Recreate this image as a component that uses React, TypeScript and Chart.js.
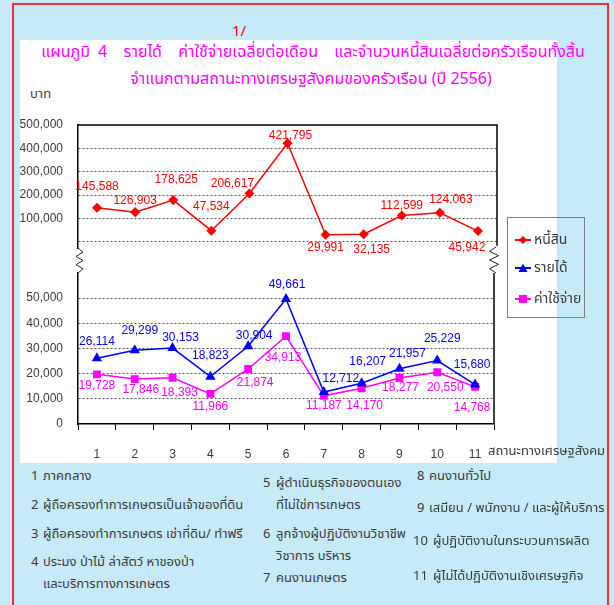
import React, { useEffect, useRef } from "react";
import { Chart, registerables } from "chart.js";

Chart.register(...registerables);

// ---------- data ----------
const categories = ["1", "2", "3", "4", "5", "6", "7", "8", "9", "10", "11"];
const debt = [145588, 126903, 178625, 47534, 206617, 421795, 29991, 32135, 112599, 124063, 45942];
const income = [26114, 29299, 30153, 18823, 30904, 49661, 12712, 16207, 21957, 25229, 15680];
const expense = [19728, 17846, 18393, 11966, 21874, 34913, 11187, 14170, 18277, 20550, 14768];
const upperTicks = [0, 100000, 200000, 300000, 400000, 500000];
const lowerTicks = [0, 10000, 20000, 30000, 40000, 50000];
const seriesNames = ["หนี้สิน", "รายได้", "ค่าใช้จ่าย"];
const groupNotes = [
  "ภาคกลาง",
  "ผู้ถือครองทำการเกษตรเป็นเจ้าของที่ดิน",
  "ผู้ถือครองทำการเกษตร เช่าที่ดิน/ ทำฟรี",
  "ประมง ป่าไม้ ล่าสัตว์ หาของป่า|และบริการทางการเกษตร",
  "ผู้ดำเนินธุรกิจของตนเอง|ที่ไม่ใช่การเกษตร",
  "ลูกจ้างผู้ปฏิบัติงานวิชาชีพ|วิชาการ บริหาร",
  "คนงานเกษตร",
  "คนงานทั่วไป",
  "เสมียน / พนักงาน / และผู้ให้บริการ",
  "ผู้ปฏิบัติงานในกระบวนการผลิต",
  "ผู้ไม่ได้ปฏิบัติงานเชิงเศรษฐกิจ",
];
const titleLine1 = "แผนภูมิ 4  รายได้  ค่าใช้จ่ายเฉลี่ยต่อเดือน  และจำนวนหนี้สินเฉลี่ยต่อครัวเรือนทั้งสิ้น";
const titleLine2 = "จำแนกตามสถานะทางเศรษฐสังคมของครัวเรือน (ปี 2556)";
const unitLabel = "บาท";
const xAxisTitle = "สถานะทางเศรษฐสังคม";

// ---------- label placement (style) ----------
const debtLabelDx = [0, 0, 3, 0, -17, 3, 0, 8, 0, 11, -11];
const debtLabelDy = [-21, -11, -20, -24, -10, -8, 13, 15, -10, -13, 17];
const incomeLabelDx = [0, 5, 8, 0, 6, 1, 17, 6, 8, 5, -3];
const incomeLabelDy = [-17, -20, -10, -21, -11, -14, -13, -22, -15, -22, -20];
const expenseLabelDx = [0, 6, 7, 0, 7, -3, 0, 3, 1, 8, -3];
const expenseLabelDy = [11, 11, 15, 13, 14, 22, 10, 17, 10, 15, 21];

const RED = "#ff0000";
const BLUE = "#0000ff";
const MAGENTA = "#ff00ff";
const TEXT = "#3a3a3a";
const THAI = "Tahoma, 'Noto Sans Thai', 'Noto Sans Thai UI', Loma, Garuda, 'Noto Sans', sans-serif";
const NUM = "'Liberation Sans', Arial, sans-serif";

const fmt = (v: number) => v.toLocaleString("en-US");

const labelPlugin = {
  id: "valueLabels",
  afterDatasetsDraw(chart: any) {
    const ctx = chart.ctx;
    chart.data.datasets.forEach((ds: any, di: number) => {
      const meta = chart.getDatasetMeta(di);
      meta.data.forEach((pt: any, i: number) => {
        ctx.save();
        ctx.font = `12px ${NUM}`;
        ctx.fillStyle = ds.borderColor;
        ctx.textAlign = "center";
        ctx.textBaseline = "middle";
        ctx.fillText(fmt(ds.data[i]), pt.x + ds.labelDx[i], pt.y + ds.labelDy[i]);
        ctx.restore();
      });
    });
  },
};

const upperFrame = {
  id: "upperFrame",
  beforeDatasetsDraw(chart: any) {
    const { ctx, chartArea: a } = chart;
    ctx.save();
    ctx.strokeStyle = "#000";
    ctx.lineWidth = 1.5;
    ctx.beginPath();
    ctx.moveTo(a.left, a.top);
    ctx.lineTo(a.right, a.top);
    ctx.lineTo(a.right, a.bottom - 3);
    ctx.stroke();
    ctx.restore();
  },
};

const lowerFrame = {
  id: "lowerFrame",
  beforeDatasetsDraw(chart: any) {
    const { ctx, chartArea: a } = chart;
    ctx.save();
    ctx.strokeStyle = "#000";
    ctx.lineWidth = 1.5;
    ctx.beginPath();
    ctx.moveTo(a.right, a.top);
    ctx.lineTo(a.right, a.bottom);
    ctx.stroke();
    // zigzag breaks
    ctx.lineWidth = 1;
    ctx.strokeStyle = "#222";
    const top = a.top - 25;
    const zl = [0, 5, -2, 5, -2, 5, 0];
    ctx.beginPath();
    zl.forEach((dx, k) => {
      const y = top + k * (25 / 6);
      const x = a.left + dx;
      k === 0 ? ctx.moveTo(x, y) : ctx.lineTo(x, y);
    });
    ctx.stroke();
    ctx.beginPath();
    zl.forEach((dx, k) => {
      const y = top - 1 + k * (26 / 6);
      const x = a.right + 2 - dx * 1.3;
      k === 0 ? ctx.moveTo(x, y) : ctx.lineTo(x, y);
    });
    ctx.stroke();
    ctx.restore();
  },
};

function yTicksCallback(hideZero: boolean) {
  return (v: any) => (hideZero && v === 0 ? "" : fmt(Number(v)));
}

function UpperChart() {
  const ref = useRef<HTMLCanvasElement>(null);
  useEffect(() => {
    const chart = new Chart(ref.current!, {
      type: "line",
      data: {
        labels: categories,
        datasets: [
          {
            label: seriesNames[0],
            data: debt,
            borderColor: RED,
            backgroundColor: RED,
            borderWidth: 1.5,
            pointStyle: "rectRot",
            pointRadius: 4,
            tension: 0,
            labelDx: debtLabelDx,
            labelDy: debtLabelDy,
          } as any,
        ],
      },
      options: {
        responsive: false,
        animation: false,
        layout: { autoPadding: false, padding: { top: 25, bottom: 22, left: 0, right: 60 } },
        plugins: { legend: { display: false }, tooltip: { enabled: false } },
        scales: {
          x: {
            type: "category",
            offset: true,
            display: true,
            afterFit: (s: any) => { s.height = 0; },
            ticks: { display: false },
            grid: { display: false, drawTicks: false },
            border: { display: false },
          },
          y: {
            min: -30000,
            max: 500000,
            afterFit: (s: any) => { s.width = 58; },
            afterBuildTicks: (s: any) => { s.ticks = upperTicks.map((v) => ({ value: v })); },
            ticks: { callback: yTicksCallback(true), color: TEXT, font: { family: NUM, size: 12 }, padding: 15 },
            grid: {
              drawTicks: false,
              color: (c: any) => (c.tick && c.tick.value < 500000 ? "#555" : "rgba(0,0,0,0)"),
              lineWidth: 1,
            },
            border: { display: true, color: "#000", width: 1.5, dash: [2, 2] },
          },
        },
      },
      plugins: [upperFrame, labelPlugin],
    });
    return () => chart.destroy();
  }, []);
  return (
    <canvas
      ref={ref}
      width={537}
      height={171}
      style={{ position: "absolute", left: 20, top: 100, width: 537, height: 171 }}
    />
  );
}

function LowerChart() {
  const ref = useRef<HTMLCanvasElement>(null);
  useEffect(() => {
    const chart = new Chart(ref.current!, {
      type: "line",
      data: {
        labels: categories,
        datasets: [
          {
            label: seriesNames[1],
            data: income,
            borderColor: BLUE,
            backgroundColor: BLUE,
            borderWidth: 1.5,
            pointStyle: "triangle",
            pointRadius: 4.5,
            tension: 0,
            labelDx: incomeLabelDx,
            labelDy: incomeLabelDy,
          } as any,
          {
            label: seriesNames[2],
            data: expense,
            borderColor: MAGENTA,
            backgroundColor: MAGENTA,
            borderWidth: 1.5,
            pointStyle: "rect",
            pointRadius: 4.5,
            tension: 0,
            labelDx: expenseLabelDx,
            labelDy: expenseLabelDy,
          } as any,
        ],
      },
      options: {
        responsive: false,
        animation: false,
        layout: { autoPadding: false, padding: { top: 28, bottom: 0, left: 0, right: 63 } },
        plugins: { legend: { display: false }, tooltip: { enabled: false } },
        scales: {
          x: {
            type: "category",
            offset: true,
            afterFit: (s: any) => { s.height = 41; },
            grid: {
              offset: true,
              drawOnChartArea: false,
              drawTicks: true,
              tickLength: 6,
              tickColor: "#000",
              tickWidth: 1,
            },
            border: { display: true, color: "#000", width: 1.5 },
            ticks: { color: TEXT, font: { family: NUM, size: 12 }, padding: 17, maxRotation: 0 },
          },
          y: {
            min: 0,
            max: 60000,
            afterFit: (s: any) => { s.width = 58; },
            afterBuildTicks: (s: any) => { s.ticks = lowerTicks.map((v) => ({ value: v })); },
            ticks: { callback: yTicksCallback(false), color: TEXT, font: { family: NUM, size: 12 }, padding: 15 },
            grid: {
              drawTicks: false,
              color: (c: any) => (c.tick && c.tick.value > 0 ? "#555" : "rgba(0,0,0,0)"),
              lineWidth: 1,
            },
            border: { display: true, color: "#000", width: 1.5, dash: [2, 2] },
          },
        },
      },
      plugins: [lowerFrame, labelPlugin],
    });
    return () => chart.destroy();
  }, []);
  return (
    <canvas
      ref={ref}
      width={537}
      height={220}
      style={{ position: "absolute", left: 20, top: 245, width: 537, height: 220 }}
    />
  );
}

function Marker({ kind, color }: { kind: string; color: string }) {
  let shape: any;
  if (kind === "diamond") shape = <polygon points="8,1 12,5 8,9 4,5" fill={color} />;
  else if (kind === "triangle") shape = <polygon points="8,0.5 12.5,9 3.5,9" fill={color} />;
  else shape = <rect x={4} y={1} width={8} height={8} fill={color} />;
  return (
    <svg width={16} height={10} style={{ position: "absolute", left: 0, top: 0 }}>
      <line x1={0} y1={5} x2={16} y2={5} stroke={color} strokeWidth={2} />
      {shape}
    </svg>
  );
}

export default function App() {
  const legendItems = [
    { name: seriesNames[0], color: RED, kind: "diamond", y: 22 },
    { name: seriesNames[1], color: BLUE, kind: "triangle", y: 50 },
    { name: seriesNames[2], color: MAGENTA, kind: "square", y: 81 },
  ];
  const noteCols = [
    { idx: [0, 1, 2, 3], numX: 31, textX: 43 },
    { idx: [4, 5, 6], numX: 263, textX: 276 },
    { idx: [7, 8, 9, 10], numX: 417, textX: 429 },
  ];
  const noteYs: Record<number, number[]> = {
    0: [476], 1: [505], 2: [534], 3: [562, 584],
    4: [483, 505], 5: [534, 556], 6: [578],
    7: [476], 8: [508], 9: [541], 10: [576],
  };
  return (
    <div
      style={{
        position: "fixed",
        left: 0,
        top: 0,
        width: 614,
        height: 605,
        background: "#c7eaf9",
        overflow: "hidden",
        fontFamily: THAI,
      }}
    >
      <div
        style={{
          position: "absolute",
          left: 12,
          top: 3,
          width: 593,
          height: 640,
          border: "2px solid #f03030",
        }}
      />
      <div style={{ position: "absolute", left: 20, top: 40, width: 537, height: 423, background: "#fff" }} />
      <div style={{ position: "absolute", left: 232, top: 23, color: RED, fontSize: 15, lineHeight: "18px" }}>1/</div>
      <div
        style={{
          position: "absolute",
          left: 6,
          top: 41,
          width: 614,
          textAlign: "center",
          color: MAGENTA,
          fontSize: 16,
          lineHeight: "22px",
          whiteSpace: "pre",
          wordSpacing: 4,
        }}
      >
        {titleLine1}
      </div>
      <div
        style={{
          position: "absolute",
          left: 4,
          top: 68,
          width: 614,
          textAlign: "center",
          color: MAGENTA,
          fontSize: 16,
          lineHeight: "22px",
          whiteSpace: "pre",
        }}
      >
        {titleLine2}
      </div>
      <div style={{ position: "absolute", left: 30, top: 85, color: TEXT, fontSize: 13, lineHeight: "18px" }}>{unitLabel}</div>

      <UpperChart />
      <LowerChart />

      <div
        style={{
          position: "absolute",
          left: 507,
          top: 217,
          width: 76,
          height: 99,
          border: "1px solid #808080",
        }}
      >
        {legendItems.map((it) => (
          <div key={it.name} style={{ position: "absolute", left: 7, top: it.y - 10, height: 20, width: 90 }}>
            <div style={{ position: "absolute", left: 0, top: 5, width: 16, height: 10 }}>
              <Marker kind={it.kind} color={it.color} />
            </div>
            <div style={{ position: "absolute", left: 19, top: 0, color: TEXT, fontSize: 14, lineHeight: "20px", whiteSpace: "pre" }}>
              {it.name}
            </div>
          </div>
        ))}
      </div>

      <div style={{ position: "absolute", left: 488, top: 442, color: TEXT, fontSize: 13, lineHeight: "18px", whiteSpace: "pre" }}>
        {xAxisTitle}
      </div>

      {noteCols.map((col) =>
        col.idx.map((i) => {
          const lines = groupNotes[i].split("|");
          const ys = noteYs[i];
          return (
            <React.Fragment key={i}>
              <div style={{ position: "absolute", left: col.numX - (i >= 9 ? 4 : 0), top: ys[0] - 10, color: TEXT, fontSize: 13, lineHeight: "20px" }}>
                {i + 1}
              </div>
              {lines.map((ln, k) => (
                <div
                  key={k}
                  style={{
                    position: "absolute",
                    left: col.textX + (i >= 9 ? 4 : 0),
                    top: ys[k] - 10,
                    color: TEXT,
                    fontSize: 13,
                    lineHeight: "20px",
                    whiteSpace: "pre",
                  }}
                >
                  {ln}
                </div>
              ))}
            </React.Fragment>
          );
        })
      )}
    </div>
  );
}
